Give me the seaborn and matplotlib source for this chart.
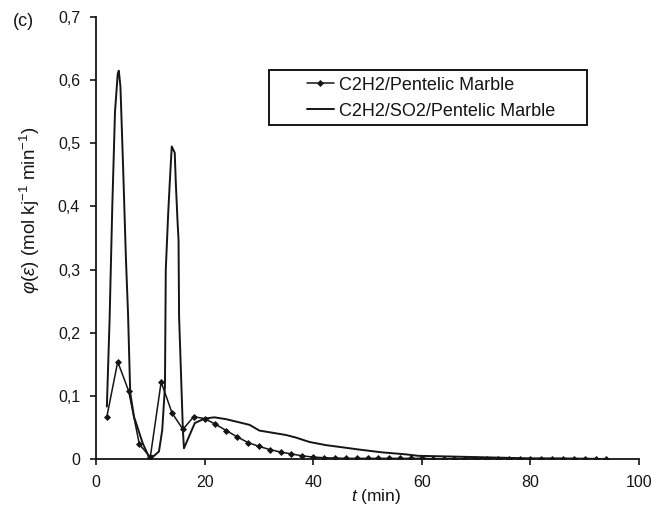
import matplotlib
matplotlib.use("Agg")
import matplotlib.pyplot as plt
import seaborn as sns
import pandas as pd
from matplotlib.patches import Rectangle
from matplotlib.ticker import FuncFormatter

# ---- data ----
t_marble = [2, 4, 6, 8, 10, 12, 14, 16, 18, 20, 22, 24, 26, 28, 30, 32, 34, 36, 38, 40,
            42, 44, 46, 48, 50, 52, 54, 56, 58, 60, 62, 64, 66, 68, 70, 72, 74, 76, 78, 80,
            82, 84, 86, 88, 90, 92, 94]
phi_marble = [0.067, 0.154, 0.108, 0.023, 0.003, 0.122, 0.073, 0.047, 0.067, 0.064,
              0.055, 0.045, 0.035, 0.026, 0.020, 0.015, 0.011, 0.008, 0.005, 0.003,
              0.002, 0.0015, 0.001, 0.001, 0.001, 0.001, 0.001, 0.001, 0.001, 0.001,
              0.0005, 0.0005, 0.0005, 0.0005, 0.0005, 0.0, 0.0, 0.0, 0.0, 0.0,
              0.0, 0.0, 0.0, 0.0, 0.0, 0.0, 0.0]

t_so2 = [2.0, 2.5, 3.0, 3.5, 4.0, 4.2, 4.5, 5.0, 5.5, 5.9, 6.3, 7.0, 8.6, 9.7, 10.7,
         11.6, 12.2, 12.7, 12.85, 13.3, 13.6, 13.95, 14.5, 14.7, 15.0, 15.2, 15.3, 16.0,
         16.2, 17.1, 18.2, 20.0, 21.8, 24.0, 26.4, 28.3, 30.1, 32.2, 35.0, 36.8, 39.3,
         42.3, 45.4, 48.4, 52.7, 57.0, 59.4, 65.0, 70.0, 75.0, 80.0, 85.0, 90.0, 94.0]
phi_so2 = [0.083, 0.22, 0.40, 0.55, 0.61, 0.615, 0.59, 0.46, 0.32, 0.23, 0.105, 0.067,
           0.025, 0.004, 0.005, 0.012, 0.046, 0.115, 0.30, 0.39, 0.44, 0.495, 0.485,
           0.437, 0.379, 0.347, 0.226, 0.046, 0.017, 0.035, 0.057, 0.064, 0.066, 0.063,
           0.058, 0.054, 0.045, 0.042, 0.038, 0.034, 0.027, 0.022, 0.0185, 0.015, 0.0105,
           0.0074, 0.005, 0.004, 0.003, 0.002, 0.001, 0.001, 0.0005, 0.0]

label_marble = "C2H2/Pentelic Marble"
label_so2 = "C2H2/SO2/Pentelic Marble"
x_ticks = [0, 20, 40, 60, 80, 100]
y_ticks = [0, 0.1, 0.2, 0.3, 0.4, 0.5, 0.6, 0.7]

# ---- style ----
sns.set_theme(style="white")
plt.rcParams["font.family"] = ["Liberation Sans", "DejaVu Sans"]
plt.rcParams["mathtext.fontset"] = "custom"
plt.rcParams["mathtext.rm"] = "Liberation Sans"
plt.rcParams["mathtext.it"] = "Liberation Sans:italic"
plt.rcParams["mathtext.bf"] = "Liberation Sans:bold"

W, H = 651, 509
L, R, T, B = 96, 639, 17, 459
fig = plt.figure(figsize=(W / 100, H / 100), dpi=100)
ax = fig.add_axes([L / W, 1 - B / H, (R - L) / W, (B - T) / H])
aw, ah = R - L, B - T

df_m = pd.DataFrame({"t": t_marble, "phi": phi_marble})
df_s = pd.DataFrame({"t": t_so2, "phi": phi_so2})

ink = "#151515"
sns.lineplot(data=df_s, x="t", y="phi", ax=ax, color=ink, linewidth=1.4,
             sort=False, estimator=None)
sns.lineplot(data=df_m, x="t", y="phi", ax=ax, color=ink, linewidth=1.1,
             marker="D", markersize=3, markeredgewidth=0.6, markeredgecolor=ink,
             sort=False, estimator=None)

ax.set_xlim(0, 100)
ax.set_ylim(0, 0.7)
ax.set_xticks(x_ticks)
ax.set_yticks(y_ticks)


def comma_fmt(v, pos):
    if abs(v) < 1e-9:
        return "0"
    return f"{v:.1f}".replace(".", ",")


ax.yaxis.set_major_formatter(FuncFormatter(comma_fmt))
ax.xaxis.set_major_formatter(FuncFormatter(lambda v, p: f"{int(round(v))}"))

for side in ["top", "right"]:
    ax.spines[side].set_visible(False)
for side in ["left", "bottom"]:
    ax.spines[side].set_color(ink)
    ax.spines[side].set_linewidth(1.3)

ax.tick_params(axis="both", which="major", direction="out", length=4.5, width=1.2,
               color=ink, labelsize=11.5, labelcolor=ink, pad=7,
               left=True, bottom=True)

ax.set_xlabel(r"$t$ (min)", fontsize=12.5, color=ink)
ax.set_ylabel(r"$\varphi(\varepsilon)$ (mol kj$^{-1}$ min$^{-1}$)", fontsize=13.5, color=ink)
ax.xaxis.set_label_coords((376 - L) / aw, -(487 - B) / ah)
ax.yaxis.set_label_coords(-(L - 42) / aw, (B - 210) / ah)

fig.text(23 / W, 1 - 22 / H, "(c)", fontsize=13, ha="center", va="center", color=ink)

# legend box
x0 = (269 - L) / aw
x1 = (587 - L) / aw
y0 = (B - 125) / ah
y1 = (B - 70) / ah
ax.add_patch(Rectangle((x0, y0), x1 - x0, y1 - y0, transform=ax.transAxes,
                       fill=False, edgecolor=ink, linewidth=1.4, zorder=5))
lines = ax.get_lines()
leg = ax.legend([lines[1], lines[0]], [label_marble, label_so2],
                loc="upper left", bbox_to_anchor=((294 - L) / aw, (B - 64) / ah),
                frameon=False, fontsize=13, handlelength=1.5, handletextpad=0.3,
                labelspacing=0.5, borderpad=0.2, labelcolor=ink)

fig.savefig("out.png", dpi=100)
